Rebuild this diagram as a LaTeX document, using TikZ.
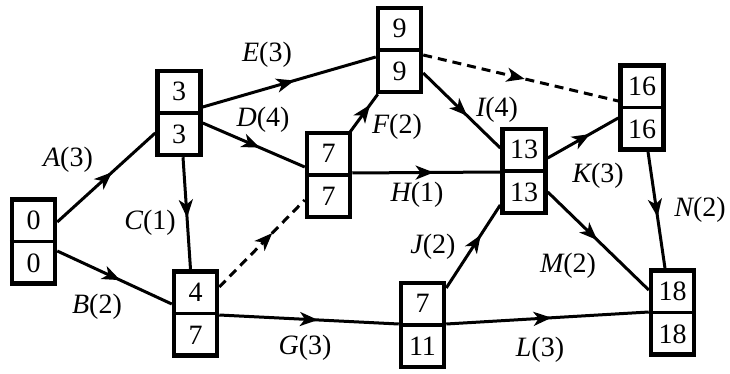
\documentclass[tikz,border=0pt]{standalone}
\usepackage{fontspec}
\setmainfont{Liberation Serif}
\usetikzlibrary{arrows.meta,decorations.markings}
\tikzset{
  boxshape/.style={draw,line width=4.5pt,minimum width=43pt,minimum height=84pt,inner sep=0pt},
  midline/.style={line width=3.2pt},
  numtext/.style={font=\fontsize{28}{30}\selectfont,inner sep=0pt},
  lbl/.style={font=\fontsize{28}{30}\selectfont,inner sep=0pt},
  edge/.style={line width=3pt},
  dashedge/.style={line width=3pt,dash pattern=on 9pt off 6pt},
  arr/.style={postaction={decorate},decoration={markings,mark=at position #1 with {\arrow{Stealth[length=18pt,width=14pt,inset=5pt]}}}}
}
\newcommand\pbox[5]{%
  \node[boxshape] (#1) at (#2,#3) {};
  \draw[midline] (#1.west) -- (#1.east);
  \node[numtext] (#1t) at ([yshift=21.5pt]#1.center) {#4};
  \node[numtext] (#1b) at ([yshift=-21.5pt]#1.center) {#5};
}
\newcommand\act[2]{{\itshape #1}(#2)}
\begin{document}
\begin{tikzpicture}[x=1pt,y=-1pt]
\useasboundingbox (0,0) rectangle (730,374);
\pbox{n0}{33.5}{241.5}{0}{0}
\pbox{n3}{179}{113}{3}{3}
\pbox{n9}{399.5}{50}{9}{9}
\pbox{n7}{328.5}{175}{7}{7}
\pbox{n4}{195.5}{313.5}{4}{7}
\pbox{n13}{524}{171}{13}{13}
\pbox{n16}{642}{107.5}{16}{16}
\pbox{n711}{422.5}{325}{7}{11}
\pbox{n18}{672.5}{312.5}{18}{18}
% connectors
\draw[edge,arr=0.56] ([yshift=19.5pt]n0.east) -- ([yshift=-20pt]n3.west);
\draw[edge,arr=0.55] ([yshift=-9.5pt]n0.east) -- ([yshift=9.5pt]n4.west);
\draw[edge,arr=0.54] ([xshift=4pt]n3.south) -- ([xshift=-5pt]n4.north);
\draw[dashedge,arr=0.62] ([yshift=26.5pt]n4.east) -- ([yshift=-25pt]n7.west);
\draw[edge,arr=0.56] ([yshift=-10pt]n3.east) -- ([yshift=8pt]n7.west);
\draw[edge,arr=0.53] ([yshift=6pt]n3.east) -- ([yshift=-7pt]n9.west);
\draw[edge,arr=0.72] ([xshift=-2pt,yshift=-1pt]n7.north east) -- ([xshift=2pt]n9.south west);
\draw[edge,arr=0.55] ([yshift=2pt]n7.east) -- ([yshift=-1pt]n13.west);
\draw[edge,arr=0.57] ([yshift=-23pt]n9.east) -- ([yshift=23pt]n13.west);
\draw[dashedge,arr=0.52] ([yshift=-5pt]n9.east) -- ([yshift=6.5pt]n16.west);
\draw[edge,arr=0.6] ([yshift=13pt]n13.east) -- ([yshift=-10.5pt]n16.west);
\draw[edge,arr=0.64] ([yshift=37pt]n711.east) -- ([yshift=-34pt]n13.west);
\draw[edge,arr=0.49] ([yshift=-21pt]n13.east) -- ([yshift=22.5pt]n18.west);
\draw[edge,arr=0.56] ([xshift=6pt]n16.south) -- ([xshift=-7.5pt]n18.north);
\draw[edge,arr=0.55] ([yshift=-1.5pt]n4.east) -- ([yshift=1pt]n711.west);
\draw[edge,arr=0.52] ([yshift=1pt]n711.east) -- ([yshift=0.5pt]n18.west);
% labels
\node[lbl] (lA) at (68,160) {\act{A}{3}};
\node[lbl] (lB) at (97,307) {\act{B}{2}};
\node[lbl] (lC) at (150,223) {\act{C}{1}};
\node[lbl] (lE) at (267,55) {\act{E}{3}};
\node[lbl] (lD) at (263,120) {\act{D}{4}};
\node[lbl] (lF) at (397,127) {\act{F}{2}};
\node[lbl] (lH) at (417,195) {\act{H}{1}};
\node[lbl] (lI) at (497,110) {\act{I}{4}};
\node[lbl] (lK) at (598,176) {\act{K}{3}};
\node[lbl] (lN) at (700,210) {\act{N}{2}};
\node[lbl] (lJ) at (433,247) {\act{J}{2}};
\node[lbl] (lM) at (568,266) {\act{M}{2}};
\node[lbl] (lG) at (305,348) {\act{G}{3}};
\node[lbl] (lL) at (540,350) {\act{L}{3}};
\end{tikzpicture}
\end{document}
